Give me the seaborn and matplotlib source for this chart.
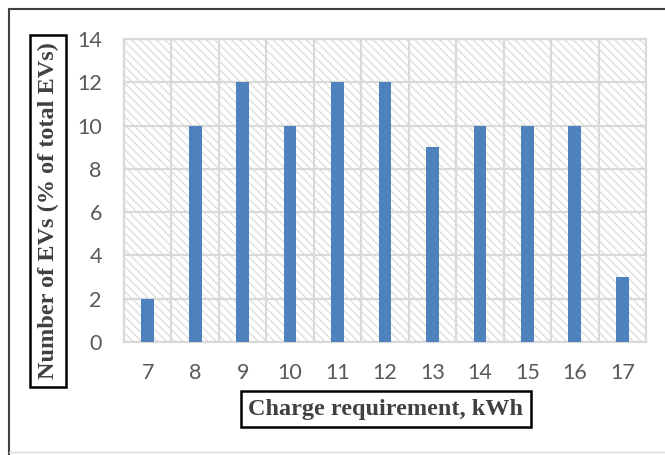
import matplotlib
matplotlib.use("Agg")
import matplotlib.pyplot as plt
from matplotlib.lines import Line2D
import seaborn as sns
import pandas as pd

# Charge requirement bins (kWh) and share of EVs in each bin (%)
charge_kwh = ["7", "8", "9", "10", "11", "12", "13", "14", "15", "16", "17"]
ev_share = [2, 10, 12, 10, 12, 12, 9, 10, 10, 10, 3]
y_ticks = [0, 2, 4, 6, 8, 10, 12, 14]

x_title = "Charge requirement, kWh"
y_title = "Number of EVs (% of total EVs)"

df = pd.DataFrame({"kwh": charge_kwh, "share": ev_share})

sns.set_theme(style="white")
plt.rcParams["hatch.color"] = "#dcdcdc"
plt.rcParams["hatch.linewidth"] = 0.9

fig = plt.figure(figsize=(6.65, 4.55), dpi=100)
ax = fig.add_axes([124 / 665, 1 - 342 / 455, 522 / 665, 303 / 455])

# hatched plot-area background
ax.patch.set_facecolor("white")
ax.patch.set_hatch("\\\\\\\\")
ax.patch.set_edgecolor("#dcdcdc")

sns.barplot(data=df, x="kwh", y="share", color="#4f81bd", width=0.27,
            saturation=1, linewidth=0, ax=ax, zorder=3)

ax.set_xlim(-0.5, len(charge_kwh) - 0.5)
ax.set_ylim(0, 14)
ax.set_yticks(y_ticks)
ax.set_yticklabels([str(v) for v in y_ticks])

# grid: horizontal at each major y tick, vertical between categories
ax.set_xticks([i + 0.5 for i in range(-1, len(charge_kwh))], minor=True)
ax.grid(False)
ax.grid(True, which="major", axis="y", color="#d9d9d9", linewidth=1.6, zorder=1)
ax.grid(True, which="minor", axis="x", color="#d9d9d9", linewidth=1.6, zorder=1)
ax.set_axisbelow(True)
for sp in ax.spines.values():
    sp.set_color("#d9d9d9")
    sp.set_linewidth(1.6)

ax.tick_params(axis="both", which="both", length=0)
ax.tick_params(axis="y", pad=16, labelsize=15.5, labelcolor="#595959")
ax.tick_params(axis="x", pad=15, labelsize=15.5, labelcolor="#595959")
for lab in ax.get_xticklabels() + ax.get_yticklabels():
    lab.set_fontfamily("Lato")
ax.set_xlabel("")
ax.set_ylabel("")

# boxed axis titles
box = dict(boxstyle="square,pad=0.3", fc="white", ec="black", lw=1.8)
fig.text(386 / 665, 1 - 409 / 455, x_title, ha="center", va="center",
         fontsize=17.5, fontweight="bold", family="Liberation Serif",
         color="#404040", bbox=box)
fig.text(48 / 665, 1 - 211 / 455, y_title, ha="center", va="center",
         rotation=90, fontsize=17.5, fontweight="bold", family="Liberation Serif",
         color="#404040", bbox=box)

# outer chart frame
fig.add_artist(Line2D([9 / 665, 1.0], [1 - 9 / 455] * 2, color="#404040", lw=1.5,
                      transform=fig.transFigure))
fig.add_artist(Line2D([9 / 665] * 2, [1 - 9 / 455, 0.0], color="#404040", lw=1.5,
                      transform=fig.transFigure))
fig.add_artist(Line2D([9 / 665, 1.0], [1 - 452 / 455] * 2, color="#d9d9d9", lw=1.0,
                      transform=fig.transFigure))

fig.savefig("out.png", dpi=100)
